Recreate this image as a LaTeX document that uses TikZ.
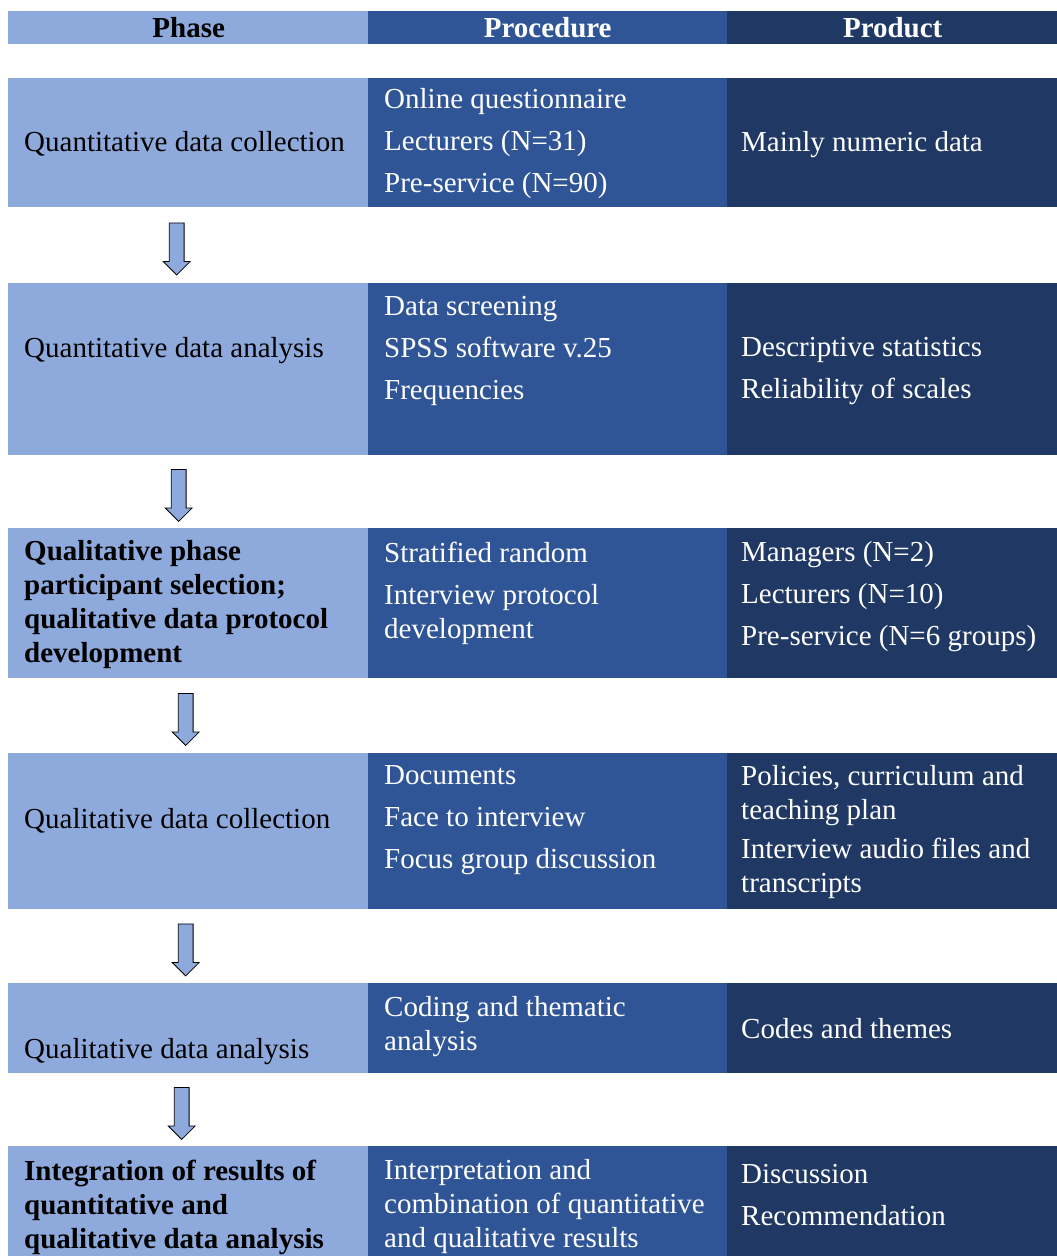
\documentclass[tikz,border=0pt]{standalone}
\usepackage{fontspec}
\setmainfont{Liberation Serif}
\usetikzlibrary{positioning,calc,shapes.arrows}

\definecolor{phaseblue}{HTML}{8EA9DB}
\definecolor{procblue}{HTML}{2F5597}
\definecolor{prodblue}{HTML}{203864}

\begin{document}
\begin{tikzpicture}[
        x=1pt, y=-1pt,
        cell/.style={rectangle, draw=none, inner sep=0pt, anchor=north west},
        headcell/.style={rectangle, inner sep=0pt, minimum height=33pt, font=\bfseries, anchor=north west},
        phasetext/.style={anchor=west, inner sep=0pt, align=left, text=black},
        celltext/.style={anchor=west, inner sep=0pt, align=left, text=white},
        flowarrow/.style={single arrow, draw=black, line width=0.8pt, fill=phaseblue,
            shape border rotate=270, inner sep=7pt, minimum height=52pt,
            single arrow head extend=6pt}
    ]
    \useasboundingbox (0,0) rectangle (1057,1256);
    \fontsize{29}{34}\selectfont

    % header row
    \node[headcell, fill=phaseblue, text=black, minimum width=361pt] (hphase) at (8,11) {Phase};
    \node[headcell, fill=procblue, text=white, minimum width=359pt] (hproc) at (368,11) {Procedure};
    \node[headcell, fill=prodblue, text=white, minimum width=331pt] (hprod) at (727,11) {Product};

    % cell backgrounds of the six phases
    \foreach \top/\bot [count=\r] in {78/207, 283/455, 528/678, 753/909, 983/1073, 1146/1290} {
        \node[cell, fill=phaseblue, minimum width=361pt, minimum height={(\bot-\top)*1pt}] (ph\r) at (8,\top) {};
        \node[cell, fill=procblue, minimum width=359pt, minimum height={(\bot-\top)*1pt}] (pr\r) at (368,\top) {};
        \node[cell, fill=prodblue, minimum width=331pt, minimum height={(\bot-\top)*1pt}] (pd\r) at (727,\top) {};
    }

    % phase 1
    \node[phasetext] (t1a) at (24,144) {Quantitative data collection};
    \node[celltext] (t1b) at (384,144) {Online questionnaire\\[8pt]Lecturers (N=31)\\[8pt]Pre-service (N=90)};
    \node[celltext] (t1c) at (741,145) {Mainly numeric data};

    % phase 2
    \node[phasetext] (t2a) at (24,351) {Quantitative data analysis};
    \node[celltext] (t2b) at (384,351) {Data screening\\[8pt]SPSS software v.25\\[8pt]Frequencies};
    \node[celltext] (t2c) at (741,371) {Descriptive statistics\\[8pt]Reliability of scales};

    % phase 3
    \node[phasetext, font=\bfseries] (t3a) at (24,605) {Qualitative phase\\participant selection;\\qualitative data protocol\\development};
    \node[celltext] (t3b) at (384,593) {Stratified random\\[8pt]Interview protocol\\development};
    \node[celltext] (t3c) at (741,597) {Managers (N=2)\\[8pt]Lecturers (N=10)\\[8pt]Pre-service (N=6 groups)};

    % phase 4
    \node[phasetext] (t4a) at (24,821) {Qualitative data collection};
    \node[celltext] (t4b) at (384,820) {Documents\\[8pt]Face to interview\\[8pt]Focus group discussion};
    \node[celltext] (t4c) at (741,832) {Policies, curriculum and\\teaching plan\\[5pt]Interview audio files and\\transcripts};

    % phase 5
    \node[phasetext] (t5a) at (24,1052) {Qualitative data analysis};
    \node[celltext] (t5b) at (384,1027) {Coding and thematic\\analysis};
    \node[celltext] (t5c) at (741,1029) {Codes and themes};

    % phase 6
    \node[phasetext, font=\bfseries] (t6a) at (24,1207) {Integration of results of\\quantitative and\\qualitative data analysis};
    \node[celltext] (t6b) at (384,1207) {Interpretation and\\combination of quantitative\\and qualitative results};
    \node[celltext] (t6c) at (741,1195) {Discussion\\[8pt]Recommendation};

    % block arrows between the phases
    \foreach \a/\b/\dx in {1/2/-12, 2/3/-10, 3/4/-3, 4/5/-3, 5/6/-7} {
        \node[flowarrow] (arr\a) at ($(ph\a.south)!0.5!(ph\b.north) + (\dx,0)$) {};
    }
\end{tikzpicture}
\end{document}
